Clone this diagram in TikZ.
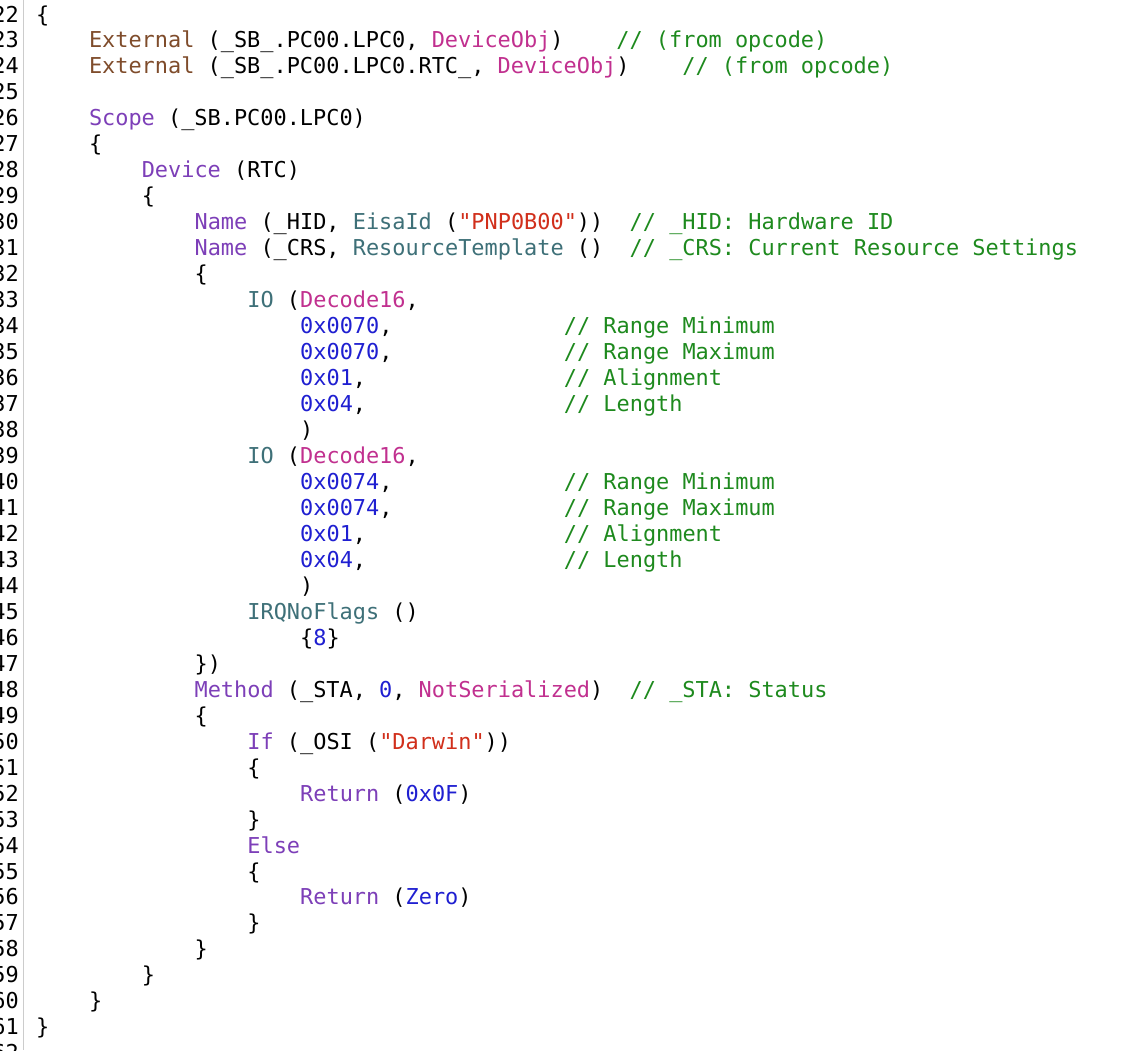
\documentclass[tikz,border=0pt]{standalone}
\usepackage{fontspec}
\newfontfamily\codefont{DejaVu Sans Mono}
\definecolor{cbrown}{HTML}{7F4C2B}
\definecolor{cpurple}{HTML}{7D3FB8}
\definecolor{cmag}{HTML}{C1308F}
\definecolor{cred}{HTML}{D12F1B}
\definecolor{cteal}{HTML}{3E7078}
\definecolor{cblue}{HTML}{1F1FD1}
\definecolor{cgreen}{HTML}{1E8A1E}
\newcommand\kw[1]{\textcolor{cpurple}{#1}}
\newcommand\exx[1]{\textcolor{cbrown}{#1}}
\newcommand\mg[1]{\textcolor{cmag}{#1}}
\newcommand\strg[1]{\textcolor{cred}{#1}}
\newcommand\tl[1]{\textcolor{cteal}{#1}}
\newcommand\nm[1]{\textcolor{cblue}{#1}}
\newcommand\cm[1]{\textcolor{cgreen}{#1}}
\newcommand\cl[4]{\node[codeline] (#1) at ({36+#2*13.2},{22+#3*25.97}) {#4};}
\tikzset{
 codeline/.style={anchor=base west,inner sep=0pt,font=\codefont\fontsize{21.9}{26}\selectfont},
 numline/.style={anchor=base east,inner sep=0pt,font=\codefont\fontsize{21.9}{26}\selectfont},
}
\begin{document}
\begin{tikzpicture}[x=1pt,y=-1pt]
\useasboundingbox (0,0) rectangle (1148,1050);
\fill[white] (0,0) rectangle (1148,1050);
\draw[gray!40,line width=1.5pt] (23.5,0) -- (23.5,1050);
\foreach \n in {22,...,62} \node[numline] (n\n) at (19,{22+(\n-22)*25.97}) {\n};
\cl{l22}{0}{0}{\{}
\cl{l23}{4}{1}{\exx{External} (\_SB\_.PC00.LPC0, \mg{DeviceObj})~~~~\cm{// (from opcode)}}
\cl{l24}{4}{2}{\exx{External} (\_SB\_.PC00.LPC0.RTC\_, \mg{DeviceObj})~~~~\cm{// (from opcode)}}
\cl{l26}{4}{4}{\kw{Scope} (\_SB.PC00.LPC0)}
\cl{l27}{4}{5}{\{}
\cl{l28}{8}{6}{\kw{Device} (RTC)}
\cl{l29}{8}{7}{\{}
\cl{l30}{12}{8}{\kw{Name} (\_HID, \tl{EisaId} (\strg{"PNP0B00"}))~~\cm{// \_HID: Hardware ID}}
\cl{l31}{12}{9}{\kw{Name} (\_CRS, \tl{ResourceTemplate} ()~~\cm{// \_CRS: Current Resource Settings}}
\cl{l32}{12}{10}{\{}
\cl{l33}{16}{11}{\tl{IO} (\mg{Decode16},}
\cl{l34}{20}{12}{\nm{0x0070},~~~~~~~~~~~~~\cm{// Range Minimum}}
\cl{l35}{20}{13}{\nm{0x0070},~~~~~~~~~~~~~\cm{// Range Maximum}}
\cl{l36}{20}{14}{\nm{0x01},~~~~~~~~~~~~~~~\cm{// Alignment}}
\cl{l37}{20}{15}{\nm{0x04},~~~~~~~~~~~~~~~\cm{// Length}}
\cl{l38}{20}{16}{)}
\cl{l39}{16}{17}{\tl{IO} (\mg{Decode16},}
\cl{l40}{20}{18}{\nm{0x0074},~~~~~~~~~~~~~\cm{// Range Minimum}}
\cl{l41}{20}{19}{\nm{0x0074},~~~~~~~~~~~~~\cm{// Range Maximum}}
\cl{l42}{20}{20}{\nm{0x01},~~~~~~~~~~~~~~~\cm{// Alignment}}
\cl{l43}{20}{21}{\nm{0x04},~~~~~~~~~~~~~~~\cm{// Length}}
\cl{l44}{20}{22}{)}
\cl{l45}{16}{23}{\tl{IRQNoFlags} ()}
\cl{l46}{20}{24}{\{\nm{8}\}}
\cl{l47}{12}{25}{\})}
\cl{l48}{12}{26}{\kw{Method} (\_STA, \nm{0}, \mg{NotSerialized})~~\cm{// \_STA: Status}}
\cl{l49}{12}{27}{\{}
\cl{l50}{16}{28}{\kw{If} (\_OSI (\strg{"Darwin"}))}
\cl{l51}{16}{29}{\{}
\cl{l52}{20}{30}{\kw{Return} (\nm{0x0F})}
\cl{l53}{16}{31}{\}}
\cl{l54}{16}{32}{\kw{Else}}
\cl{l55}{16}{33}{\{}
\cl{l56}{20}{34}{\kw{Return} (\nm{Zero})}
\cl{l57}{16}{35}{\}}
\cl{l58}{12}{36}{\}}
\cl{l59}{8}{37}{\}}
\cl{l60}{4}{38}{\}}
\cl{l61}{0}{39}{\}}
\end{tikzpicture}
\end{document}
